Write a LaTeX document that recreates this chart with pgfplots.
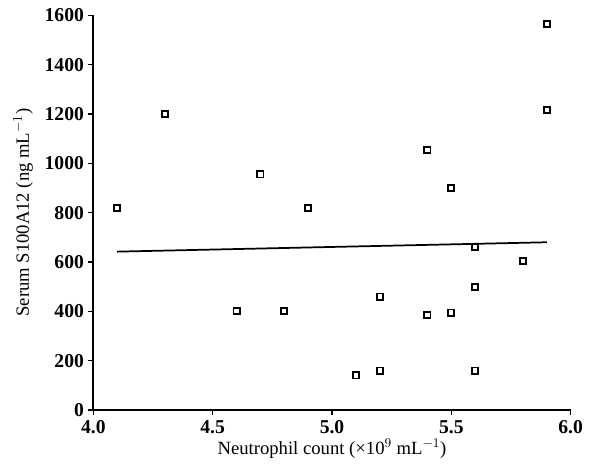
\documentclass[border=0pt]{standalone}
\usepackage{pgfplots}
\pgfplotsset{compat=1.18}
\usepackage{fontspec}
\setmainfont{Liberation Serif}
\begin{document}
\begin{tikzpicture}
\begin{axis}[
    scale only axis,
    width=358pt, height=296pt,
    xmin=4.0, xmax=6.0, ymin=0, ymax=1600,
    axis lines*=left,
    axis line style={line width=1.6pt},
    xtick={4.0,4.5,...,6.0},
    ytick={0,200,...,1600},
    tick style={line width=1.2pt, black},
    tick align=outside,
    major tick length=4pt,
    /pgf/number format/assume math mode=true,
    tick label style={font=\fontsize{14.7}{16}\selectfont\bfseries, inner sep=1pt},
    x tick label style={yshift=-2.9pt, /pgf/number format/.cd, fixed, fixed zerofill, precision=1},
    y tick label style={xshift=-1.9pt, /pgf/number format/.cd, fixed, 1000 sep={}},
    label style={font=\fontsize{14}{16}\selectfont},
    xlabel={Neutrophil count (×10$^{9}$ mL$^{-1}$)},
    ylabel={Serum S100A12 (ng mL$^{-1}$)},
    xlabel style={at={(axis description cs:0.5,-0.098)}, anchor=center},
    ylabel style={at={(axis description cs:-0.147,0.5)}, anchor=center},
    clip=false,
]
\addplot[only marks, mark=square, mark size=2.3pt, mark options={line width=1.4pt, black}]
coordinates {
    (4.1,820) (4.3,1200) (4.6,400) (4.7,955) (4.8,400) (4.9,820)
    (5.1,140) (5.2,460) (5.2,160) (5.4,1055) (5.4,385)
    (5.5,900) (5.5,395) (5.6,660) (5.6,500) (5.6,160)
    (5.8,605) (5.9,1565) (5.9,1215)
};
\addplot[black, line width=1.3pt] coordinates {(4.1,642) (5.9,680)};
\coordinate (o) at (rel axis cs:0,0);
\end{axis}
\pgfresetboundingbox
\path (o) ++(-70pt,-40.5pt) rectangle ++(444pt,348pt);
\end{tikzpicture}
\end{document}
